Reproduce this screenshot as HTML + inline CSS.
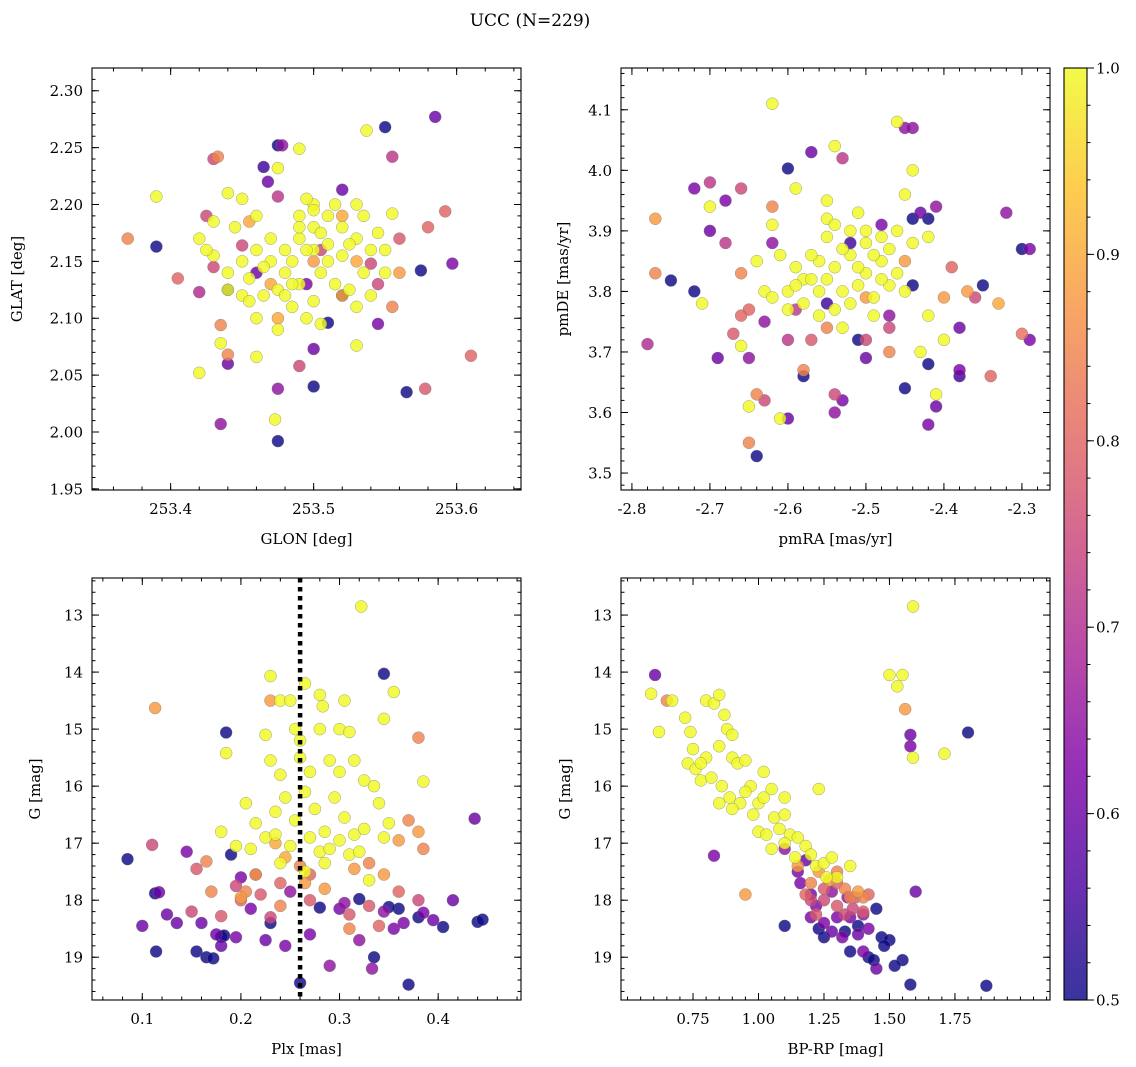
<!DOCTYPE html>
<html><head><meta charset="utf-8"><style>
body{margin:0;background:#fff;}
svg{display:block;font-family:"DejaVu Serif","Liberation Serif",serif;}
</style></head><body>
<svg id="fig" width="1136" height="1067" viewBox="0 0 1136 1067" xmlns="http://www.w3.org/2000/svg">
<text x="530" y="26" font-size="17" text-anchor="middle">UCC (N=229)</text>
</svg>
<script>
// ---- data: [x, y, membership probability] ----
const glonGlat = [
[253.475,2.252,.5],[253.55,2.268,.5],[253.465,2.233,.55],[253.44,2.125,.5],[253.39,2.163,.5],[253.475,1.992,.5],[253.50,2.04,.5],[253.51,2.096,.5],[253.575,2.142,.5],[253.565,2.035,.5],[253.52,2.12,.5],
[253.478,2.252,.65],[253.468,2.22,.6],[253.52,2.213,.6],[253.44,2.06,.6],[253.475,2.038,.65],[253.435,2.007,.65],[253.545,2.095,.62],[253.597,2.148,.62],[253.585,2.277,.6],[253.5,2.073,.6],[253.46,2.14,.6],[253.495,2.13,.62],
[253.43,2.24,.75],[253.425,2.19,.75],[253.43,2.145,.75],[253.42,2.123,.7],[253.555,2.242,.72],[253.475,2.207,.72],[253.56,2.17,.78],[253.58,2.18,.8],[253.592,2.194,.8],[253.61,2.067,.8],[253.578,2.038,.78],[253.49,2.058,.75],[253.505,2.16,.75],[253.54,2.148,.75],[253.545,2.13,.75],[253.405,2.135,.8],[253.37,2.17,.85],[253.45,2.164,.75],
[253.433,2.242,.85],[253.44,2.068,.85],[253.435,2.094,.85],[253.555,2.11,.85],[253.53,2.15,.9],[253.52,2.12,.9],[253.56,2.14,.88],[253.475,2.1,.9],[253.52,2.19,.9],[253.455,2.185,.9],[253.47,2.13,.9],[253.5,2.15,.88],
[253.39,2.207,1],[253.42,2.052,1],[253.49,2.249,1],[253.475,2.232,1],[253.537,2.265,1],[253.555,2.192,1],[253.435,2.078,1],[253.46,2.066,1],[253.473,2.011,1],[253.53,2.076,1],[253.505,2.095,1],[253.495,2.1,1],[253.45,2.12,1],[253.44,2.21,1],[253.43,2.185,1],[253.42,2.17,1],[253.445,2.18,1],[253.46,2.19,1],[253.47,2.15,1],[253.48,2.16,1],[253.49,2.17,1],[253.5,2.2,1],[253.51,2.19,1],[253.52,2.18,1],[253.53,2.17,1],[253.54,2.16,1],[253.5,2.18,1],[253.49,2.19,1],[253.495,2.205,1],[253.505,2.14,1],[253.515,2.13,1],[253.525,2.125,1],[253.535,2.19,1],[253.54,2.12,1],[253.55,2.14,1],[253.455,2.115,1],[253.465,2.12,1],[253.475,2.125,1],[253.485,2.11,1],[253.48,2.14,1],[253.47,2.17,1],[253.46,2.16,1],[253.45,2.15,1],[253.44,2.14,1],[253.43,2.155,1],[253.425,2.16,1],[253.44,2.125,1],[253.5,2.16,1],[253.51,2.165,1],[253.52,2.155,1],[253.53,2.11,1],[253.49,2.13,1],[253.485,2.15,1],[253.505,2.175,1],[253.515,2.2,1],[253.45,2.205,1],[253.46,2.1,1],[253.53,2.2,1],[253.55,2.16,1],[253.5,2.115,1],[253.475,2.09,1],[253.49,2.18,1],
[253.465,2.145,1],[253.485,2.13,1],[253.51,2.15,1],[253.525,2.165,1],[253.535,2.14,1],[253.495,2.16,1],[253.48,2.12,1],[253.455,2.135,1],[253.545,2.175,1],[253.5,2.195,1]
];
const pmRaDe = [
[-2.64,3.528,.5],[-2.6,4.003,.5],[-2.75,3.818,.5],[-2.72,3.8,.5],[-2.58,3.66,.5],[-2.55,3.78,.55],[-2.44,3.92,.5],[-2.42,3.92,.5],[-2.45,3.64,.5],[-2.42,3.68,.5],[-2.38,3.66,.55],[-2.35,3.81,.5],[-2.3,3.87,.5],[-2.51,3.72,.5],[-2.44,3.81,.5],[-2.52,3.88,.55],
[-2.57,4.03,.6],[-2.69,3.69,.6],[-2.7,3.9,.6],[-2.72,3.97,.62],[-2.68,3.95,.62],[-2.6,3.59,.6],[-2.53,3.62,.62],[-2.5,3.69,.6],[-2.43,3.93,.6],[-2.42,3.58,.62],[-2.41,3.61,.6],[-2.44,4.07,.65],[-2.45,4.07,.65],[-2.38,3.74,.6],[-2.38,3.67,.62],[-2.29,3.72,.62],[-2.29,3.87,.62],[-2.32,3.93,.65],[-2.65,3.69,.65],[-2.63,3.75,.65],[-2.62,3.88,.65],[-2.47,3.76,.65],[-2.54,3.6,.65],[-2.41,3.94,.65],[-2.48,3.91,.62],
[-2.78,3.713,.7],[-2.7,3.98,.72],[-2.66,3.97,.75],[-2.63,3.62,.75],[-2.6,3.72,.72],[-2.59,3.77,.72],[-2.53,4.02,.72],[-2.54,3.63,.75],[-2.57,3.72,.78],[-2.5,3.72,.75],[-2.34,3.66,.8],[-2.3,3.73,.82],[-2.36,3.79,.75],[-2.65,3.77,.8],[-2.66,3.76,.8],[-2.68,3.88,.72],[-2.39,3.84,.8],[-2.47,3.74,.75],[-2.67,3.73,.78],
[-2.77,3.83,.85],[-2.77,3.92,.88],[-2.65,3.55,.85],[-2.64,3.63,.85],[-2.66,3.83,.85],[-2.62,3.94,.85],[-2.58,3.67,.85],[-2.4,3.79,.88],[-2.37,3.8,.88],[-2.33,3.78,.9],[-2.47,3.7,.85],[-2.55,3.74,.85],[-2.45,3.85,.88],[-2.5,3.79,.88],
[-2.62,4.11,1],[-2.54,4.04,1],[-2.46,4.08,1],[-2.44,4.0,1],[-2.45,3.96,1],[-2.55,3.95,1],[-2.59,3.97,1],[-2.62,3.91,1],[-2.7,3.94,1],[-2.71,3.78,1],[-2.66,3.71,1],[-2.65,3.61,1],[-2.61,3.59,1],[-2.41,3.63,1],[-2.42,3.76,1],[-2.43,3.7,1],[-2.4,3.72,1],
[-2.6,3.8,1],[-2.58,3.82,1],[-2.56,3.85,1],[-2.54,3.84,1],[-2.52,3.86,1],[-2.5,3.88,1],[-2.48,3.85,1],[-2.46,3.83,1],[-2.53,3.8,1],[-2.51,3.81,1],[-2.49,3.79,1],[-2.47,3.87,1],[-2.55,3.89,1],[-2.57,3.86,1],[-2.59,3.84,1],[-2.61,3.86,1],[-2.63,3.8,1],[-2.6,3.77,1],[-2.56,3.76,1],[-2.52,3.78,1],[-2.54,3.77,1],[-2.5,3.9,1],[-2.52,3.9,1],[-2.48,3.89,1],[-2.46,3.9,1],[-2.44,3.88,1],[-2.45,3.8,1],[-2.47,3.81,1],[-2.58,3.78,1],[-2.55,3.92,1],[-2.5,3.83,1],[-2.53,3.74,1],[-2.62,3.79,1],[-2.57,3.82,1],[-2.51,3.93,1],[-2.49,3.76,1],[-2.64,3.85,1],[-2.42,3.89,1],
[-2.55,3.82,1],[-2.53,3.87,1],[-2.49,3.86,1],[-2.51,3.84,1],[-2.56,3.8,1],[-2.48,3.82,1],[-2.54,3.91,1],[-2.59,3.81,1]
];
const plxG = [
[0.085,17.28,.5],[0.113,17.88,.5],[0.114,18.9,.5],[0.155,18.9,.5],[0.165,19.0,.5],[0.172,19.02,.5],[0.18,18.64,.5],[0.183,18.62,.5],[0.185,15.06,.5],[0.26,19.45,.5],[0.28,18.13,.5],[0.32,17.98,.5],[0.345,14.03,.5],[0.36,18.15,.5],[0.37,19.48,.5],[0.38,18.3,.5],[0.405,18.47,.5],[0.44,18.38,.5],[0.445,18.34,.5],[0.35,18.12,.5],[0.335,19.0,.5],[0.19,17.2,.5],[0.23,18.4,.5],
[0.1,18.45,.6],[0.117,17.86,.6],[0.125,18.25,.6],[0.135,18.4,.6],[0.145,17.15,.62],[0.16,18.4,.6],[0.175,18.6,.6],[0.18,18.8,.6],[0.195,18.65,.62],[0.2,17.6,.62],[0.21,18.15,.62],[0.225,18.7,.6],[0.245,18.8,.62],[0.27,18.6,.62],[0.29,19.15,.65],[0.3,18.15,.62],[0.32,18.7,.65],[0.333,19.2,.65],[0.355,18.5,.62],[0.365,18.4,.62],[0.385,18.22,.62],[0.395,18.35,.6],[0.415,18.0,.6],[0.437,16.57,.6],[0.345,18.2,.65],[0.305,18.05,.65],[0.25,17.85,.65],[0.215,17.55,.65],
[0.11,17.03,.75],[0.15,18.2,.75],[0.155,17.45,.78],[0.18,18.28,.78],[0.195,17.75,.75],[0.22,17.9,.78],[0.23,18.3,.75],[0.24,17.7,.8],[0.27,18.0,.78],[0.31,18.25,.78],[0.33,18.1,.78],[0.34,18.45,.8],[0.36,17.85,.8],[0.38,18.0,.75],[0.27,17.55,.8],[0.2,18.0,.8],
[0.113,14.63,.88],[0.17,17.85,.85],[0.165,17.32,.85],[0.205,17.85,.85],[0.215,17.55,.88],[0.23,14.5,.88],[0.235,17.0,.9],[0.24,18.1,.85],[0.26,17.4,.85],[0.265,17.7,.88],[0.285,17.8,.88],[0.315,17.45,.88],[0.33,17.35,.85],[0.345,17.55,.88],[0.36,16.95,.88],[0.37,16.6,.85],[0.38,15.15,.85],[0.38,16.8,.88],[0.385,17.1,.85],[0.31,18.5,.85],[0.2,17.95,.88],[0.245,17.25,.9],
[0.322,12.85,1],[0.23,14.07,1],[0.24,14.5,1],[0.265,14.2,1],[0.28,14.4,1],[0.283,14.6,1],[0.305,14.5,1],[0.355,14.35,1],[0.345,14.82,1],[0.25,14.5,1],[0.255,15.0,1],[0.26,15.2,1],[0.28,15.0,1],[0.3,15.0,1],[0.31,15.05,1],[0.225,15.1,1],[0.23,15.55,1],[0.185,15.42,1],[0.24,15.8,1],[0.26,15.5,1],[0.27,15.75,1],[0.29,15.55,1],[0.3,15.75,1],[0.315,15.55,1],[0.325,15.9,1],[0.335,16.0,1],[0.34,16.3,1],[0.385,15.92,1],[0.205,16.3,1],[0.215,16.65,1],[0.225,16.9,1],[0.235,16.45,1],[0.245,16.2,1],[0.255,16.6,1],[0.265,16.1,1],[0.275,16.4,1],[0.285,16.8,1],[0.295,16.2,1],[0.305,16.55,1],[0.315,16.85,1],[0.325,16.75,1],[0.345,16.9,1],[0.35,16.65,1],[0.18,16.8,1],[0.195,17.05,1],[0.21,17.1,1],[0.235,16.85,1],[0.25,17.05,1],[0.27,16.9,1],[0.28,17.15,1],[0.29,17.1,1],[0.3,16.95,1],[0.31,17.2,1],[0.24,17.35,1],[0.265,17.5,1],[0.285,17.35,1],[0.32,17.15,1],[0.33,17.65,1]
];
const bprpG = [
[1.58,19.48,.5],[1.87,19.5,.5],[1.8,15.06,.5],[1.1,18.45,.5],[1.45,18.15,.5],[1.47,18.65,.5],[1.5,18.7,.5],[1.55,19.05,.5],[1.52,19.15,.5],[1.42,19.0,.5],[1.44,19.05,.5],[1.35,18.9,.5],[1.38,18.45,.5],[1.23,18.5,.5],[1.25,18.65,.5],[1.33,18.55,.5],[1.48,18.8,.5],
[0.605,14.05,.6],[1.6,17.85,.6],[0.83,17.22,.62],[1.58,15.3,.62],[1.58,15.1,.6],[1.2,18.3,.62],[1.25,18.4,.62],[1.28,18.55,.6],[1.3,18.3,.62],[1.32,18.65,.62],[1.35,18.3,.62],[1.38,18.6,.6],[1.4,18.9,.62],[1.45,19.2,.6],[1.42,18.5,.62],[1.15,17.5,.62],[1.18,17.3,.6],[1.2,17.9,.62],[1.22,18.1,.62],[1.28,17.85,.65],[1.34,17.95,.65],[1.4,18.25,.65],[1.1,17.1,.65],[1.16,17.7,.62],
[1.2,18.0,.75],[1.22,18.25,.78],[1.25,18.0,.75],[1.3,18.1,.78],[1.33,18.25,.75],[1.36,18.15,.75],[1.4,18.2,.78],[1.25,17.8,.78],[1.18,17.9,.8],[1.3,17.7,.8],[1.37,17.95,.78],[1.42,17.9,.8],
[0.65,14.5,.85],[1.56,14.65,.88],[0.95,17.9,.88],[1.23,17.5,.88],[1.27,17.65,.88],[1.3,17.5,.85],[1.33,17.8,.85],[1.38,17.85,.88],[1.4,17.95,.85],[1.35,17.95,.85],[1.2,17.7,.85],[1.15,17.4,.88],
[1.59,12.85,1],[1.5,14.05,1],[1.53,14.25,1],[1.55,14.05,1],[1.59,15.5,1],[1.71,15.43,1],[0.59,14.38,1],[0.62,15.05,1],[0.67,14.5,1],[0.72,14.8,1],[0.74,15.05,1],[0.75,15.35,1],[0.73,15.6,1],[0.76,15.7,1],[0.8,14.5,1],[0.83,14.55,1],[0.85,14.4,1],[0.87,14.75,1],[0.88,15.0,1],[0.9,15.1,1],[0.9,15.5,1],[0.85,15.3,1],[0.8,15.5,1],[0.78,15.9,1],[0.82,15.85,1],[0.86,16.0,1],[0.89,16.2,1],[0.92,15.6,1],[0.95,15.55,1],[0.97,16.0,1],[0.93,16.3,1],[0.9,16.4,1],[0.85,16.3,1],[0.98,16.5,1],[1.0,16.3,1],[1.02,16.2,1],[1.05,16.05,1],[1.0,16.8,1],[1.03,16.85,1],[1.06,16.55,1],[1.08,16.75,1],[1.1,16.5,1],[1.12,16.85,1],[1.15,16.9,1],[1.1,17.0,1],[1.05,17.1,1],[1.14,17.25,1],[1.18,17.05,1],[1.2,17.2,1],[1.22,17.4,1],[1.25,17.35,1],[1.28,17.25,1],[1.3,17.6,1],[1.26,17.6,1],[1.1,16.2,1],[1.23,16.05,1],[1.02,15.75,1],[0.95,16.1,1],[0.78,15.6,1],[1.35,17.4,1]
];
const plxLine = 0.26;
const p1XTicks=[253.4,253.5,253.6], p1YTicks=[1.95,2.00,2.05,2.10,2.15,2.20,2.25,2.30];
const p2XTicks=[-2.8,-2.7,-2.6,-2.5,-2.4,-2.3], p2YTicks=[3.5,3.6,3.7,3.8,3.9,4.0,4.1];
const p3XTicks=[0.1,0.2,0.3,0.4], gTicks=[13,14,15,16,17,18,19];
const p4XTicks=[0.75,1.00,1.25,1.50,1.75];
const cbTicks=[0.5,0.6,0.7,0.8,0.9,1.0];

const NS="http://www.w3.org/2000/svg";
const svg=document.getElementById('fig');
function el(tag,attrs,parent){const e=document.createElementNS(NS,tag);for(const k in attrs)e.setAttribute(k,attrs[k]);(parent||svg).appendChild(e);return e;}
const stops=["#0d0887","#4c02a1","#7e03a8","#a92395","#cc4778","#e56b5d","#f89540","#fdc328","#f0f921"];
function hex(h){return [1,3,5].map(i=>parseInt(h.substr(i,2),16));}
function plasma(t){t=Math.max(0,Math.min(1,t));const s=t*(stops.length-1);const i=Math.min(Math.floor(s),stops.length-2);const f=s-i;const a=hex(stops[i]),b=hex(stops[i+1]);return `rgb(${a.map((v,k)=>Math.round(v+(b[k]-v)*f)).join(',')})`;}
function cmap(p){return plasma((p-0.5)/0.5);}

function panel(cfg){
  const g=el('g',{});
  
  
  const [x0,y0,x1,y1]=cfg.box;
  const sx=v=>x0+(v-cfg.xlim[0])/(cfg.xlim[1]-cfg.xlim[0])*(x1-x0);
  const sy=v=>cfg.yinv? y0+(v-cfg.ylim[0])/(cfg.ylim[1]-cfg.ylim[0])*(y1-y0) : y1-(v-cfg.ylim[0])/(cfg.ylim[1]-cfg.ylim[0])*(y1-y0);
  const pts=el('g',{},g);
  
  
  const sorted=cfg.data.slice().sort((a,b)=>a[2]-b[2]);
  sorted.forEach(d=>{const x=sx(d[0]),y=sy(d[1]);if(x<x0||x>x1||y<y0||y>y1)return;
    const c=el('circle',{cx:x,cy:y,r:6,fill:cmap(d[2]),'fill-opacity':0.82,stroke:'#777','stroke-width':0.5,'stroke-opacity':0.7},pts);
    
    });
  if(cfg.vline!==undefined){const l=el('line',{x1:sx(cfg.vline),x2:sx(cfg.vline),y1:y0,y2:y1,stroke:'#000','stroke-width':4.5,'stroke-dasharray':'4.5,4.5'},g);
    
    }
  const fr=el('rect',{x:x0,y:y0,width:x1-x0,height:y1-y0,fill:'none',stroke:'#000','stroke-width':1.1},g);
  
  
  const mx=cfg.xminor, my=cfg.yminor;
  for(let v=Math.ceil(cfg.xlim[0]/mx)*mx; v<=cfg.xlim[1]; v+=mx){const x=sx(v);el('line',{x1:x,x2:x,y1:y1,y2:y1-3.5,stroke:'#000'},g);el('line',{x1:x,x2:x,y1:y0,y2:y0+3.5,stroke:'#000'},g);}
  const ylo=Math.min(...cfg.ylim), yhi=Math.max(...cfg.ylim);
  for(let v=Math.ceil(ylo/my)*my; v<=yhi; v+=my){const y=sy(v);el('line',{x1:x0,x2:x0+3.5,y1:y,y2:y,stroke:'#000'},g);el('line',{x1:x1,x2:x1-3.5,y1:y,y2:y,stroke:'#000'},g);}
  cfg.xticks.forEach(v=>{const x=sx(v);el('line',{x1:x,x2:x,y1:y1,y2:y1-7,stroke:'#000'},g);el('line',{x1:x,x2:x,y1:y0,y2:y0+7,stroke:'#000'},g);
    const t=el('text',{x:x,y:y1+24,'font-size':15,'text-anchor':'middle'},g);t.textContent=v.toFixed(cfg.xdec);
    
    });
  cfg.yticks.forEach(v=>{const y=sy(v);el('line',{x1:x0,x2:x0+7,y1:y,y2:y,stroke:'#000'},g);el('line',{x1:x1,x2:x1-7,y1:y,y2:y,stroke:'#000'},g);
    const t=el('text',{x:x0-9,y:y+5.5,'font-size':15,'text-anchor':'end'},g);t.textContent=v.toFixed(cfg.ydec);
    
    });
  const xl=el('text',{x:(x0+x1)/2,y:y1+54,'font-size':15,'text-anchor':'middle'},g);xl.textContent=cfg.xlabel;
  
  
  const yx=cfg.ylabelX, yy=(y0+y1)/2;
  const yl=el('text',{x:yx,y:yy,'font-size':15,'text-anchor':'middle',transform:`rotate(-90 ${yx} ${yy})`},g);yl.textContent=cfg.ylabel;
  
  
}
panel({name:'glon-glat-panel',box:[92,68,521,490],xlim:[253.345,253.645],ylim:[1.949,2.320],data:glonGlat,xticks:p1XTicks,yticks:p1YTicks,xminor:0.02,yminor:0.01,xdec:1,ydec:2,xlabel:'GLON [deg]',ylabel:'GLAT [deg]',ylabelX:22});
panel({name:'proper-motion-panel',box:[621,68,1050,490],xlim:[-2.814,-2.264],ylim:[3.472,4.169],data:pmRaDe,xticks:p2XTicks,yticks:p2YTicks,xminor:0.02,yminor:0.02,xdec:1,ydec:1,xlabel:'pmRA [mas/yr]',ylabel:'pmDE [mas/yr]',ylabelX:568});
panel({name:'parallax-magnitude-panel',box:[92,578,521,1000],xlim:[0.049,0.484],ylim:[12.35,19.75],yinv:true,data:plxG,xticks:p3XTicks,yticks:gTicks,xminor:0.02,yminor:0.2,xdec:1,ydec:0,xlabel:'Plx [mas]',ylabel:'G [mag]',ylabelX:40,vline:plxLine});
panel({name:'color-magnitude-panel',box:[621,578,1050,1000],xlim:[0.475,2.113],ylim:[12.35,19.75],yinv:true,data:bprpG,xticks:p4XTicks,yticks:gTicks,xminor:0.05,yminor:0.2,xdec:2,ydec:0,xlabel:'BP-RP [mag]',ylabel:'G [mag]',ylabelX:570});

const cb=el('g',{});


const defs=el('defs',{},cb);
const lg=el('linearGradient',{id:'cbg',x1:0,y1:1,x2:0,y2:0},defs);
stops.forEach((s,i)=>el('stop',{offset:i/(stops.length-1),'stop-color':s,'stop-opacity':0.82},lg));
const cx0=1064,cx1=1087,cy0=68,cy1=1000;
el('rect',{x:cx0,y:cy0,width:cx1-cx0,height:cy1-cy0,fill:'url(#cbg)',stroke:'#000','stroke-width':1.1},cb);
const cby=v=>cy1-(v-0.5)/0.5*(cy1-cy0);
for(let v=0.5;v<=1.0001;v+=0.02){const y=cby(v);el('line',{x1:cx1,x2:cx1+3.5,y1:y,y2:y,stroke:'#000'},cb);}
cbTicks.forEach(v=>{const y=cby(v);el('line',{x1:cx1,x2:cx1+7,y1:y,y2:y,stroke:'#000'},cb);
  const t=el('text',{x:cx1+9,y:y+5.5,'font-size':15},cb);t.textContent=v.toFixed(1);
  
  });
</script>
</body></html>
